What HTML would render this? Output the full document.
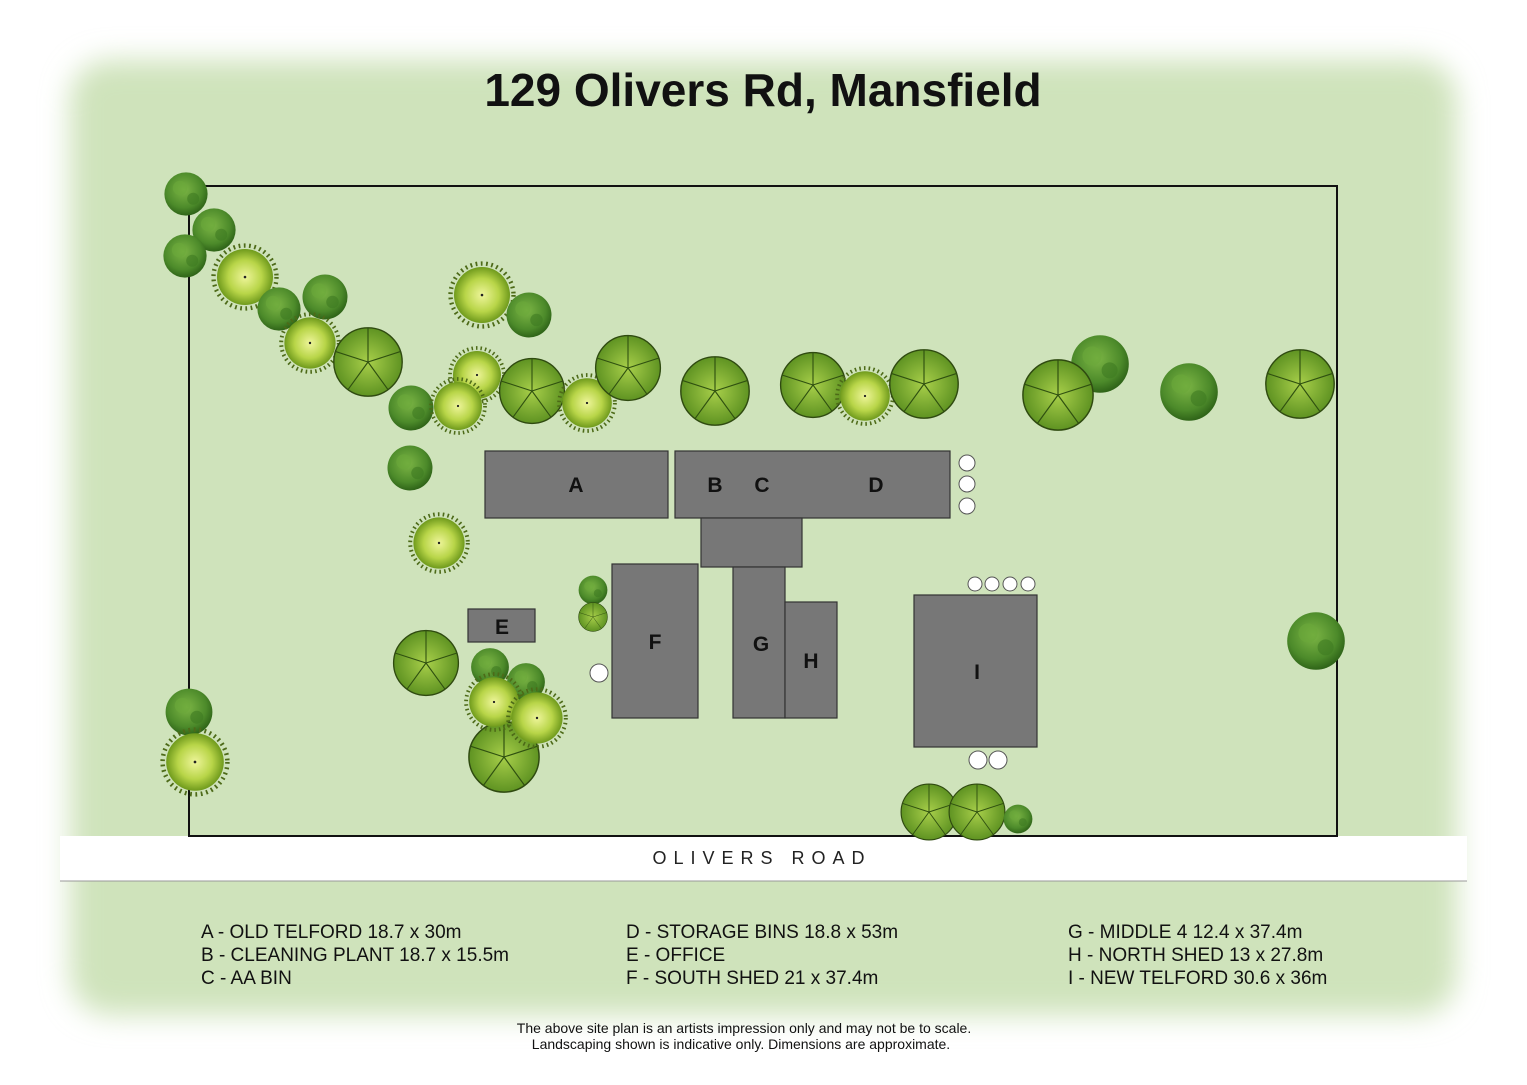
<!DOCTYPE html>
<html><head><meta charset="utf-8"><style>
body{margin:0;background:#fff;width:1527px;height:1080px;overflow:hidden;font-family:"Liberation Sans",sans-serif}
</style></head><body>
<svg width="1527" height="1080" viewBox="0 0 1527 1080" xmlns="http://www.w3.org/2000/svg">
<defs>
<filter id="bl" x="-10%" y="-10%" width="120%" height="120%"><feGaussianBlur stdDeviation="14"/></filter>
<radialGradient id="lime" cx="50%" cy="50%" r="50%"><stop offset="0" stop-color="#eef59a"/><stop offset="0.6" stop-color="#b8d548"/><stop offset="1" stop-color="#6f9a1c"/></radialGradient>
<radialGradient id="bush" cx="45%" cy="40%" r="60%"><stop offset="0" stop-color="#7cb545"/><stop offset="0.7" stop-color="#4c8a2a"/><stop offset="1" stop-color="#2f6418"/></radialGradient>
<radialGradient id="palm" cx="50%" cy="50%" r="50%"><stop offset="0" stop-color="#a8cf4a"/><stop offset="1" stop-color="#5f9322"/></radialGradient>
<symbol id="tl" viewBox="-40 -40 80 80"><circle r="36" fill="none" stroke="#4d6a18" stroke-width="5" stroke-dasharray="2 4"/><circle r="32" fill="url(#lime)"/><circle r="1.5" fill="#222"/></symbol>
<symbol id="tb" viewBox="-40 -40 80 80"><circle r="36" fill="url(#bush)"/><circle cx="-10" cy="-10" r="12" fill="#6aa83a" opacity=".6"/><circle cx="12" cy="8" r="10" fill="#3e7a22" opacity=".6"/></symbol>
<symbol id="tp" viewBox="-40 -40 80 80"><circle r="36" fill="url(#palm)" stroke="#2f4a10" stroke-width="1.5"/><g stroke="#2f5010" stroke-width="1.2"><line x1="0" y1="0" x2="0" y2="-36"/><line x1="0" y1="0" x2="34" y2="-11"/><line x1="0" y1="0" x2="21" y2="29"/><line x1="0" y1="0" x2="-21" y2="29"/><line x1="0" y1="0" x2="-34" y2="-11"/></g></symbol>
</defs>
<rect x="70" y="60" width="1387" height="955" rx="40" fill="#cfe3bb" filter="url(#bl)"/>
<rect x="60" y="836" width="1407" height="45" fill="#fff"/>
<line x1="60" y1="881" x2="1467" y2="881" stroke="#999" stroke-width="1"/>
<text x="763" y="106" font-size="46" font-weight="bold" text-anchor="middle" fill="#111" font-family="Liberation Sans, sans-serif">129 Olivers Rd, Mansfield</text>
<rect x="189" y="186" width="1148" height="650" fill="none" stroke="#111" stroke-width="2"/>
<text x="762" y="864" font-size="18" letter-spacing="7" text-anchor="middle" fill="#222">OLIVERS ROAD</text>
<g fill="#777" stroke="#333" stroke-width="1.2">
<rect x="485" y="451" width="183" height="67"/>
<rect x="675" y="451" width="275" height="67"/>
<rect x="701" y="518" width="101" height="49"/>
<rect x="612" y="564" width="86" height="154"/>
<rect x="733" y="567" width="52" height="151"/>
<rect x="785" y="602" width="52" height="116"/>
<rect x="914" y="595" width="123" height="152"/>
<rect x="468" y="609" width="67" height="33"/>
</g>
<g font-size="21" font-weight="bold" fill="#111" text-anchor="middle">
<text x="576" y="492">A</text><text x="715" y="492">B</text><text x="762" y="492">C</text><text x="876" y="492">D</text>
<text x="655" y="649">F</text><text x="761" y="651">G</text><text x="811" y="668">H</text><text x="977" y="679">I</text><text x="502" y="634">E</text>
</g>
<g fill="#fff" stroke="#555" stroke-width="1">
<circle cx="967" cy="463" r="8"/><circle cx="967" cy="484" r="8"/><circle cx="967" cy="506" r="8"/>
<circle cx="975" cy="584" r="7"/><circle cx="992" cy="584" r="7"/><circle cx="1010" cy="584" r="7"/><circle cx="1028" cy="584" r="7"/>
<circle cx="978" cy="760" r="9"/><circle cx="998" cy="760" r="9"/><circle cx="599" cy="673" r="9"/>
</g>
<use href="#tb" x="162" y="170" width="48" height="48"/>
<use href="#tb" x="190" y="206" width="48" height="48"/>
<use href="#tb" x="161" y="232" width="48" height="48"/>
<use href="#tl" x="210" y="242" width="70" height="70"/>
<use href="#tb" x="255" y="285" width="48" height="48"/>
<use href="#tb" x="300" y="272" width="50" height="50"/>
<use href="#tl" x="278" y="311" width="64" height="64"/>
<use href="#tp" x="330" y="324" width="76" height="76"/>
<use href="#tl" x="447" y="260" width="70" height="70"/>
<use href="#tb" x="504" y="290" width="50" height="50"/>
<use href="#tb" x="386" y="383" width="50" height="50"/>
<use href="#tl" x="447" y="345" width="60" height="60"/>
<use href="#tl" x="428" y="376" width="60" height="60"/>
<use href="#tp" x="496" y="355" width="72" height="72"/>
<use href="#tl" x="556" y="372" width="62" height="62"/>
<use href="#tp" x="592" y="332" width="72" height="72"/>
<use href="#tp" x="677" y="353" width="76" height="76"/>
<use href="#tp" x="777" y="349" width="72" height="72"/>
<use href="#tl" x="834" y="365" width="62" height="62"/>
<use href="#tp" x="886" y="346" width="76" height="76"/>
<use href="#tb" x="1068" y="332" width="64" height="64"/>
<use href="#tp" x="1019" y="356" width="78" height="78"/>
<use href="#tb" x="1157" y="360" width="64" height="64"/>
<use href="#tp" x="1262" y="346" width="76" height="76"/>
<use href="#tb" x="1284" y="609" width="64" height="64"/>
<use href="#tb" x="385" y="443" width="50" height="50"/>
<use href="#tl" x="407" y="511" width="64" height="64"/>
<use href="#tb" x="577" y="574" width="32" height="32"/>
<use href="#tp" x="577" y="601" width="32" height="32"/>
<use href="#tp" x="390" y="627" width="72" height="72"/>
<use href="#tb" x="469" y="646" width="42" height="42"/>
<use href="#tb" x="505" y="661" width="42" height="42"/>
<use href="#tp" x="465" y="718" width="78" height="78"/>
<use href="#tl" x="463" y="671" width="62" height="62"/>
<use href="#tl" x="505" y="686" width="64" height="64"/>
<use href="#tb" x="163" y="686" width="52" height="52"/>
<use href="#tl" x="159" y="726" width="72" height="72"/>
<use href="#tp" x="898" y="781" width="62" height="62"/>
<use href="#tp" x="946" y="781" width="62" height="62"/>
<use href="#tb" x="1002" y="803" width="32" height="32"/>
<g font-size="19" fill="#111">
<text x="201" y="938">A - OLD TELFORD 18.7 x 30m</text>
<text x="201" y="961">B - CLEANING PLANT 18.7 x 15.5m</text>
<text x="201" y="984">C - AA BIN</text>
<text x="626" y="938">D - STORAGE BINS 18.8 x 53m</text>
<text x="626" y="961">E - OFFICE</text>
<text x="626" y="984">F - SOUTH SHED 21 x 37.4m</text>
<text x="1068" y="938">G - MIDDLE 4 12.4 x 37.4m</text>
<text x="1068" y="961">H - NORTH SHED 13 x 27.8m</text>
<text x="1068" y="984">I - NEW TELFORD 30.6 x 36m</text>
</g>
<g font-size="14" fill="#111" text-anchor="middle">
<text x="744" y="1033">The above site plan is an artists impression only and may not be to scale.</text>
<text x="741" y="1049">Landscaping shown is indicative only.  Dimensions are approximate.</text>
</g>
</svg>
</body></html>
